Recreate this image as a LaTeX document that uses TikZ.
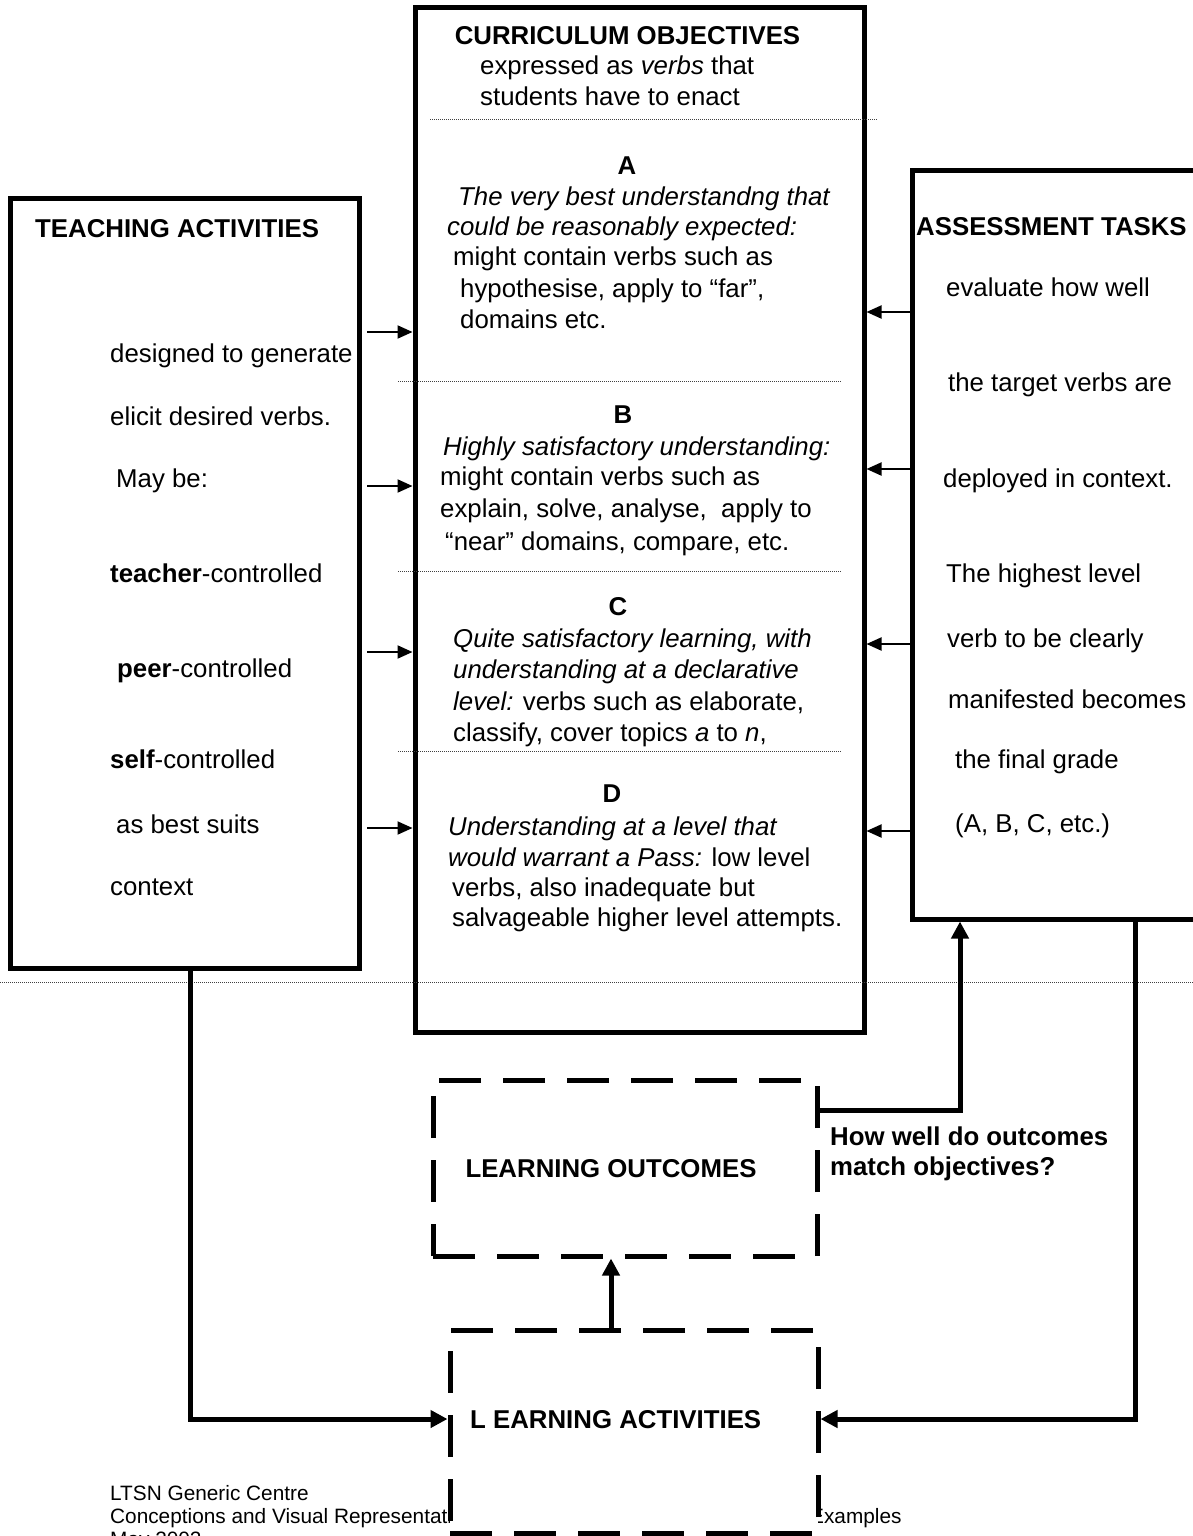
\documentclass[tikz,border=0pt]{standalone}
\usepackage{fontspec}
\setmainfont{Liberation Sans}
\usetikzlibrary{arrows.meta}
\tikzset{
  box/.style={draw, line width=5pt, inner sep=0pt},
  dbox/.style={draw, line width=5pt, dash pattern=on 42pt off 22pt, fill=white, inner sep=0pt},
  txt/.style={anchor=base west, inner sep=0pt, font=\fontsize{25.8}{30}\selectfont},
  ctxt/.style={anchor=base, inner sep=0pt, font=\fontsize{25.8}{30}\selectfont\bfseries},
  ftxt/.style={anchor=base west, inner sep=0pt, font=\fontsize{20.8}{24}\selectfont},
  arr/.style={line width=2pt, -{Triangle[length=15pt,width=13pt]}},
  conn/.style={line width=5pt},
  conna/.style={line width=5pt, -{Triangle[length=17pt,width=17pt]}},
  dots/.style={line width=1pt, dash pattern=on 1pt off 1pt, black!75}
}
\begin{document}
\begin{tikzpicture}[x=1pt,y=-1pt]
\useasboundingbox (0,0) rectangle (1193,1536);
\clip (0,0) rectangle (1193,1536);
\fill[white] (0,0) rectangle (1193,1536);

% main boxes
\node[box, minimum width=449pt, minimum height=1024pt] (curr) at (639.5,520) {};
\node[box, minimum width=349pt, minimum height=770pt] (teach) at (184.5,583) {};
\node[box, minimum width=300pt, minimum height=749pt] (assess) at (1062,544.5) {};

% dotted separators
\draw[dots] (430,120) -- (877,120);
\draw[dots] (398,381) -- (842,381);
\draw[dots] (398,571) -- (842,571);
\draw[dots] (398,751) -- (842,751);
\draw[dots] (0,982) -- (1193,982);

% curriculum text
\node[ctxt] (cT) at (627.5,45) {CURRICULUM OBJECTIVES};
\node[txt] (c1) at (480,75) {expressed as \textit{verbs} that};
\node[txt] (c2) at (480,106) {students have to enact};
\node[ctxt] (gA) at (627,175) {A};
\node[txt] (a1) at (458,205) {\textit{The very best understandng that}};
\node[txt] (a2) at (447,235) {\textit{could be reasonably expected:}};
\node[txt] (a3) at (453,265) {might contain verbs such as};
\node[txt] (a4) at (460,297) {hypothesise, apply to “far”,};
\node[txt] (a5) at (460,328) {domains etc.};
\node[ctxt] (gB) at (623,423) {B};
\node[txt] (b1) at (443,455) {\textit{Highly satisfactory understanding:}};
\node[txt] (b2) at (440,485) {might contain verbs such as};
\node[txt] (b3) at (440,517) {explain, solve, analyse, \ apply to};
\node[txt] (b4) at (445,550) {“near” domains, compare, etc.};
\node[ctxt] (gC) at (618,615) {C};
\node[txt] (k1) at (453,647) {\textit{Quite satisfactory learning, with}};
\node[txt] (k2) at (453,678) {\textit{understanding at a declarative}};
\node[txt] (k3) at (453,710) {\textit{level:} verbs such as elaborate,};
\node[txt] (k4) at (453,741) {classify, cover topics \textit{a} to \textit{n},};
\node[ctxt] (gD) at (612,802) {D};
\node[txt] (d1) at (448,835) {\textit{Understanding at a level that}};
\node[txt] (d2) at (448,866) {\textit{would warrant a Pass:} low level};
\node[txt] (d3) at (452,896) {verbs, also inadequate but};
\node[txt] (d4) at (452,926) {salvageable higher level attempts.};

% teaching text
\node[txt, font=\fontsize{25.8}{30}\selectfont\bfseries] (tT) at (35,237) {TEACHING ACTIVITIES};
\node[txt] (t1) at (110,362) {designed to generate};
\node[txt] (t2) at (110,425) {elicit desired verbs.};
\node[txt] (t3) at (116,487) {May be:};
\node[txt] (t4) at (110,582) {\textbf{teacher}-controlled};
\node[txt] (t5) at (117,677) {\textbf{peer}-controlled};
\node[txt] (t6) at (110,768) {\textbf{self}-controlled};
\node[txt] (t7) at (116,833) {as best suits};
\node[txt] (t8) at (110,895) {context};

% assessment text
\node[txt, font=\fontsize{25.8}{30}\selectfont\bfseries] (sT) at (916,235) {ASSESSMENT TASKS};
\node[txt] (s1) at (946,296) {evaluate how well};
\node[txt] (s2) at (948,391) {the target verbs are};
\node[txt] (s3) at (943,487) {deployed in context.};
\node[txt] (s4) at (946,582) {The highest level};
\node[txt] (s5) at (947,647) {verb to be clearly};
\node[txt] (s6) at (948,708) {manifested becomes};
\node[txt] (s7) at (955,768) {the final grade};
\node[txt] (s8) at (955,832) {(A, B, C, etc.)};

% arrows teaching -> curriculum
\coordinate (la1) at (367,332);
\coordinate (la2) at (367,486);
\coordinate (la3) at (367,652);
\coordinate (la4) at (367,828);
\draw[arr] (la1) -- (curr.west |- la1);
\draw[arr] (la2) -- (curr.west |- la2);
\draw[arr] (la3) -- (curr.west |- la3);
\draw[arr] (la4) -- (curr.west |- la4);

% arrows assessment -> curriculum
\coordinate (ra1) at (0,312);
\coordinate (ra2) at (0,469);
\coordinate (ra3) at (0,644);
\coordinate (ra4) at (0,831);
\draw[arr] (assess.west |- ra1) -- (curr.east |- ra1);
\draw[arr] (assess.west |- ra2) -- (curr.east |- ra2);
\draw[arr] (assess.west |- ra3) -- (curr.east |- ra3);
\draw[arr] (assess.west |- ra4) -- (curr.east |- ra4);

% footer (partly covered by the learning activities box)
\node[ftxt] (f1) at (110,1500) {LTSN Generic Centre};
\node[ftxt] (f2) at (110,1523) {Conceptions and Visual Representati};
\node[ftxt] (f3) at (810,1523) {Examples};
\node[ftxt] (f4) at (110,1546) {May 2002};

% dashed boxes
\node[dbox, minimum width=384pt, minimum height=176pt] (lo) at (625,1168) {};
\node[dbox, minimum width=368pt, minimum height=203pt] (la) at (634,1431.5) {};
\node[ctxt] (loT) at (611,1177) {LEARNING OUTCOMES};
\node[txt, font=\fontsize{25.8}{30}\selectfont\bfseries] (laT) at (470,1428) {L EARNING ACTIVITIES};
\node[txt, font=\fontsize{25.8}{30}\selectfont\bfseries] (q1) at (830,1145) {How well do outcomes};
\node[txt, font=\fontsize{25.8}{30}\selectfont\bfseries] (q2) at (830,1175) {match objectives?};

% bottom connectors
\coordinate (jl) at (190,1419);
\coordinate (jr) at (1135,1419);
\coordinate (jm) at (611,0);
\coordinate (jq) at (960,1110);
\draw[conna] (teach.south -| jl) -- (jl) -- (la.west |- jl);
\draw[conna] (assess.south -| jr) -- (jr) -- (la.east |- jr);
\draw[conna] (la.north -| jm) -- (lo.south -| jm);
\draw[conna] (lo.east |- jq) -- (jq) -- (assess.south -| jq);
\end{tikzpicture}
\end{document}
